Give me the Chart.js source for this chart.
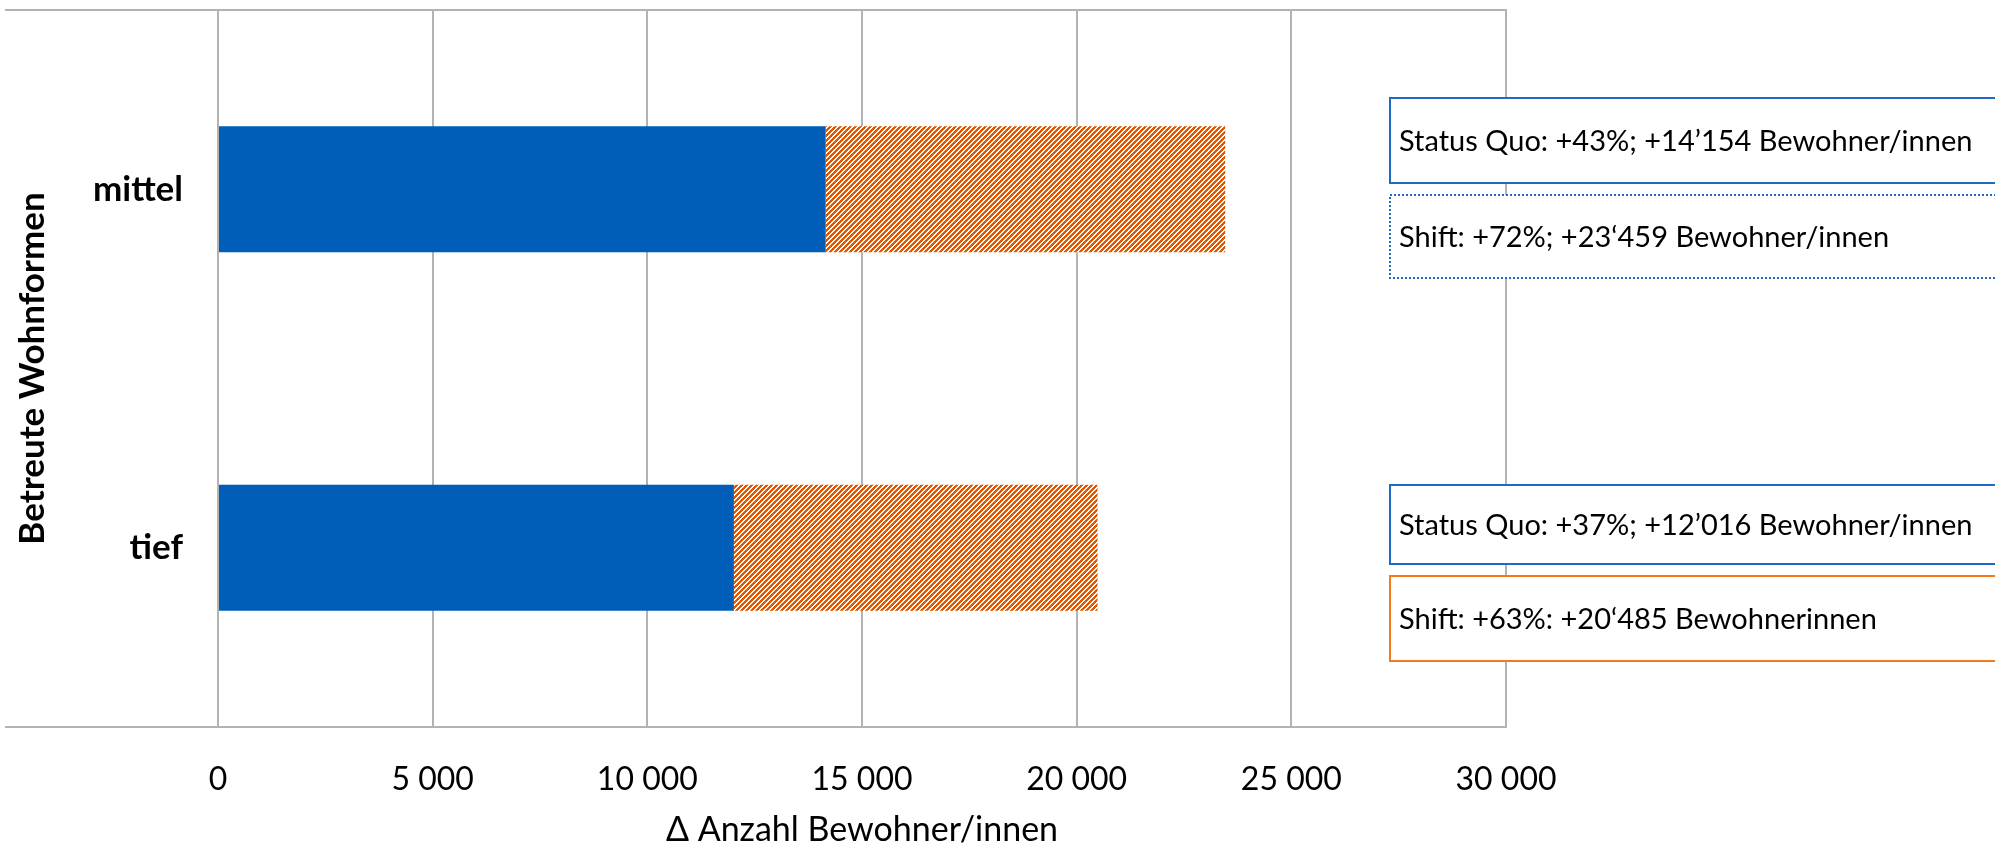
<!DOCTYPE html>
<html lang="de">
<head>
<meta charset="utf-8">
<title>Betreute Wohnformen – Δ Anzahl Bewohner/innen</title>
<script src="https://cdn.jsdelivr.net/npm/chart.js@4/dist/chart.umd.min.js"></script>
<style>
  html, body { margin: 0; padding: 0; background: #ffffff; }
  #wrap { width: 1995px; height: 848px; }
</style>
</head>
<body>
<div id="wrap"><canvas id="chart" width="1995" height="848"></canvas></div>
<script>
// ---- data -------------------------------------------------------------
const categories    = ['mittel', 'tief'];
const statusQuo     = [14154, 12016];   // Δ residents, status quo scenario
const shift         = [23459, 20485];   // Δ residents, shift scenario
const statusQuoPct  = [43, 37];
const shiftPct      = [72, 63];
const xTicks        = [0, 5000, 10000, 15000, 20000, 25000, 30000];

const xTitle = 'Δ Anzahl Bewohner/innen';
const yTitle = 'Betreute Wohnformen';

// ---- styling ----------------------------------------------------------
const FONT = 'Lato';
const BLUE = '#005eb8';
const GRID = '#b3b3b3';

// thin upward diagonal hatch for the shift segment
function makeHatch() {
  const n = 5;
  const c = document.createElement('canvas');
  c.width = n; c.height = n;
  const g = c.getContext('2d');
  const img = g.createImageData(n, n);
  for (let y = 0; y < n; y++) {
    for (let x = 0; x < n; x++) {
      const i = (y * n + x) * 4;
      const on = ((x + y) % n) < 3;
      img.data[i]     = on ? 226 : 255;
      img.data[i + 1] = on ? 86  : 255;
      img.data[i + 2] = on ? 0   : 255;
      img.data[i + 3] = 255;
    }
  }
  g.putImageData(img, 0, 0);
  return document.getElementById('chart').getContext('2d').createPattern(c, 'repeat');
}

// numbers written as 14’154 in the text boxes, 14 154 on the axis
function groupDigits(v, sep) {
  return String(v).replace(/\B(?=(\d{3})+(?!\d))/g, sep);
}

// text boxes to the right of the plot, one pair per category
const boxes = [
  { top: 98,  bottom: 183, color: '#1f6bc4', dash: [],     text: 'Status Quo: +' + statusQuoPct[0] + '%; +' + groupDigits(statusQuo[0], '’') + ' Bewohner/innen' },
  { top: 195, bottom: 278, color: '#1f6bc4', dash: [2, 2], text: 'Shift: +' + shiftPct[0] + '%; +' + groupDigits(shift[0], '‘') + ' Bewohner/innen' },
  { top: 485, bottom: 564, color: '#1f6bc4', dash: [],     text: 'Status Quo: +' + statusQuoPct[1] + '%; +' + groupDigits(statusQuo[1], '’') + ' Bewohner/innen' },
  { top: 576, bottom: 661, color: '#f5791f', dash: [],     text: 'Shift: +' + shiftPct[1] + '%: +' + groupDigits(shift[1], '‘') + ' Bewohnerinnen' }
];
const BOX_LEFT = 1390;
const LINE_LEFT = 5;

const framePlugin = {
  id: 'frame',
  beforeDatasetsDraw(chart) {
    const { ctx, chartArea } = chart;
    ctx.save();
    ctx.strokeStyle = GRID;
    ctx.lineWidth = 2;
    ctx.beginPath();
    ctx.moveTo(LINE_LEFT, chartArea.top);
    ctx.lineTo(chartArea.right + 1, chartArea.top);
    ctx.moveTo(LINE_LEFT, chartArea.bottom);
    ctx.lineTo(chartArea.right + 1, chartArea.bottom);
    ctx.stroke();
    ctx.restore();
  },
  afterDraw(chart) {
    const { ctx } = chart;
    ctx.save();
    boxes.forEach(b => {
      const w = chart.width - BOX_LEFT + 10;
      ctx.fillStyle = '#ffffff';
      ctx.fillRect(BOX_LEFT, b.top, w, b.bottom - b.top);
      ctx.strokeStyle = b.color;
      ctx.lineWidth = 2;
      ctx.setLineDash(b.dash);
      ctx.strokeRect(BOX_LEFT, b.top, w, b.bottom - b.top);
      ctx.setLineDash([]);
      ctx.fillStyle = '#000000';
      ctx.font = '29px ' + FONT;
      ctx.textBaseline = 'middle';
      ctx.textAlign = 'left';
      ctx.fillText(b.text, BOX_LEFT + 9, (b.top + b.bottom) / 2 + 1);
    });
    ctx.restore();
  }
};

const chart = new Chart(document.getElementById('chart'), {
  type: 'bar',
  data: {
    labels: categories,
    datasets: [
      {
        label: 'Status Quo',
        data: statusQuo,
        backgroundColor: BLUE,
        borderWidth: 0,
        grouped: false,
        categoryPercentage: 1,
        barPercentage: 0.352,
        order: 1
      },
      {
        label: 'Shift',
        data: categories.map((c, i) => [statusQuo[i], shift[i]]),
        backgroundColor: makeHatch(),
        borderWidth: 0,
        grouped: false,
        categoryPercentage: 1,
        barPercentage: 0.352,
        order: 2
      }
    ]
  },
  options: {
    indexAxis: 'y',
    responsive: false,
    animation: false,
    layout: { padding: { left: 0, right: 489, top: 10, bottom: 0 } },
    plugins: {
      legend: { display: false },
      tooltip: { enabled: false }
    },
    scales: {
      x: {
        min: 0,
        max: 30000,
        afterBuildTicks(scale) { scale.ticks = xTicks.map(v => ({ value: v })); },
        afterFit(scale) {
          scale.height = 121;
          scale.paddingLeft = 0;
          scale.paddingRight = 0;
        },
        grid: { color: GRID, lineWidth: 2, drawTicks: false },
        border: { display: false },
        ticks: {
          padding: 37,
          color: '#000000',
          font: { family: FONT, size: 32, lineHeight: 1 },
          callback: v => groupDigits(v, ' ')
        },
        title: {
          display: true,
          text: xTitle,
          color: '#000000',
          font: { family: FONT, size: 34, lineHeight: 1 },
          padding: { top: 0, bottom: 1 }
        }
      },
      y: {
        afterFit(scale) {
          scale.width = 218;
          scale.paddingTop = 0;
          scale.paddingBottom = 0;
        },
        grid: { display: false, drawTicks: false },
        border: { display: false },
        ticks: {
          padding: 35,
          color: '#000000',
          font: { family: FONT, size: 35, weight: 'bold' }
        },
        title: {
          display: true,
          text: yTitle,
          color: '#000000',
          font: { family: FONT, size: 35, weight: 'bold', lineHeight: 1 },
          padding: { top: 15, bottom: 0 }
        }
      }
    }
  },
  plugins: [framePlugin]
});
</script>
</body>
</html>
